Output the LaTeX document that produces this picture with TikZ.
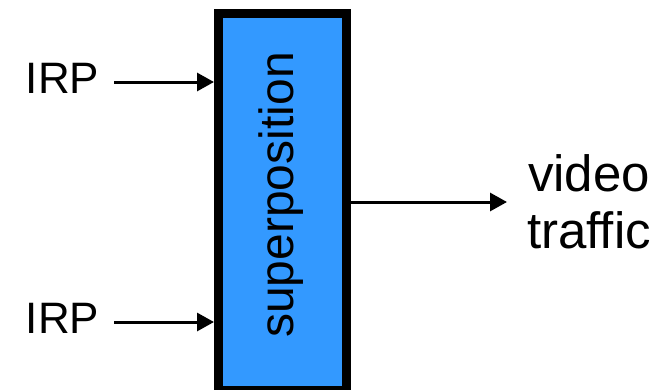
\documentclass[tikz,border=0pt]{standalone}
\usepackage{fontspec}
\setmainfont{Liberation Sans}
\usetikzlibrary{arrows.meta}
\definecolor{boxblue}{RGB}{51,153,255}
\begin{document}
\begin{tikzpicture}[x=1pt,y=-1pt,
  arr/.style={line width=3pt,-{Triangle[length=17pt,width=18pt]}},
  lbl/.style={inner sep=0pt, font=\fontsize{44}{50}\selectfont},
  boxstyle/.style={draw=black, line width=9pt, fill=boxblue, minimum width=128pt, minimum height=377pt, inner sep=0pt},
  ]
\useasboundingbox (0,0) rectangle (655,389);
\begin{scope}
\clip (0,0) rectangle (655,389);
\node[boxstyle] (box) at (282.5,202) {};
\end{scope}
\node[rotate=90, anchor=base, inner sep=0pt, font=\fontsize{48}{54}\selectfont] (sp) at (293,195) {superposition};
\node[lbl, anchor=base] (irp1) at (62.5,93) {IRP};
\node[lbl, anchor=base] (irp2) at (62.5,333) {IRP};
\coordinate (s1) at (114,82);
\coordinate (s2) at (114,322);
\draw[arr] (s1) -- (s1 -| box.west);
\draw[arr] (s2) -- (s2 -| box.west);
\node[anchor=west, inner xsep=20pt, inner ysep=0pt, align=center, font=\fontsize{51}{57}\selectfont] (vt) at (507,202) {video\\traffic};
\draw[arr] (box.east) -- (vt.west);
\end{tikzpicture}
\end{document}
